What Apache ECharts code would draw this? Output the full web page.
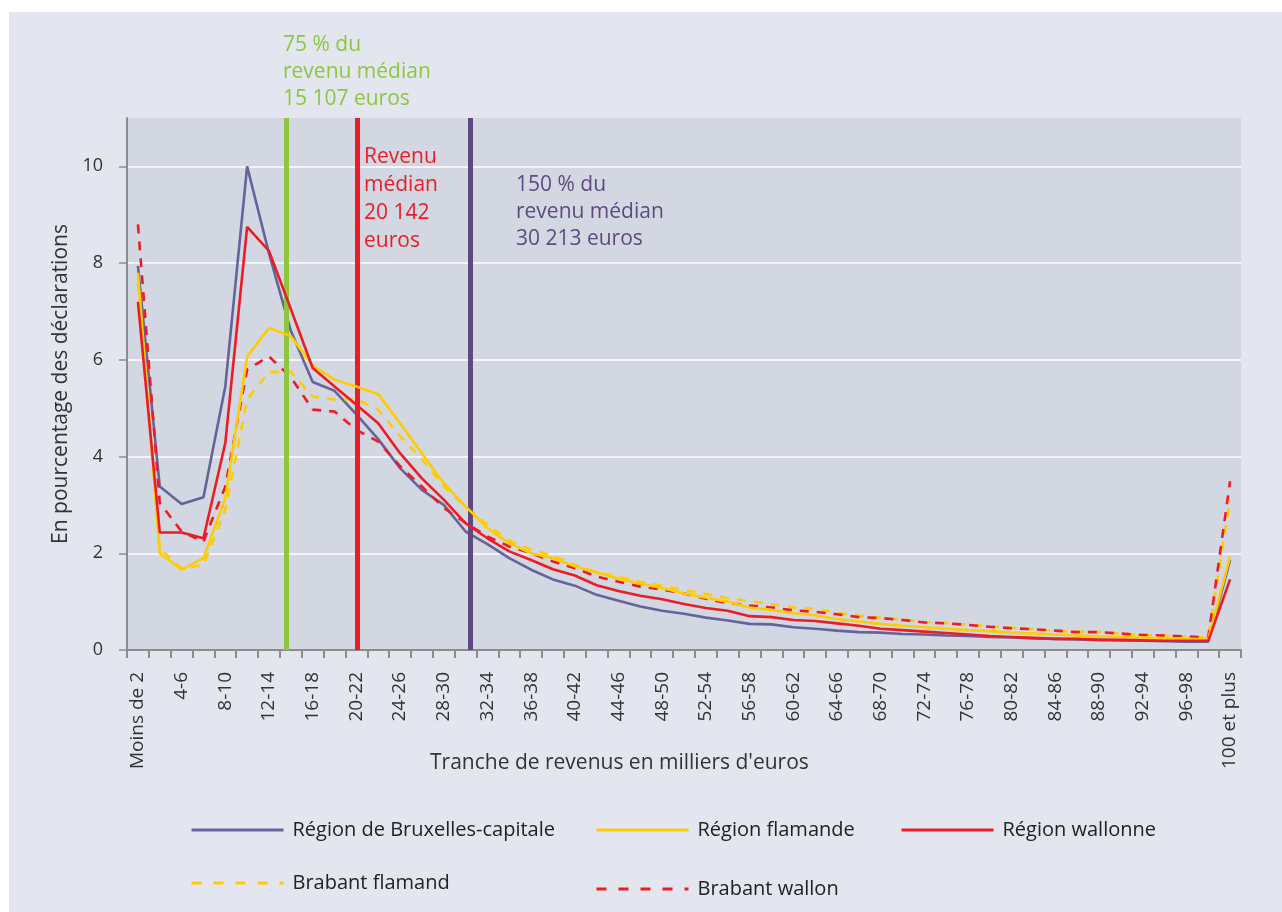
<!DOCTYPE html>
<html><head><meta charset="utf-8">
<script src="https://cdn.jsdelivr.net/npm/echarts@6/dist/echarts.min.js"></script>
<style>
html,body{margin:0;padding:0;background:#fff;}
#panel{position:absolute;left:9px;top:12px;width:1273px;height:900px;background:#e3e6ee;}
#main{position:absolute;left:0;top:0;width:1282px;height:912px;}
</style></head><body>
<div id="panel"></div><div id="main"></div>
<script>
const categories = ["Moins de 2","2-4","4-6","6-8","8-10","10-12","12-14","14-16","16-18","18-20",
  "20-22","22-24","24-26","26-28","28-30","30-32","32-34","34-36","36-38","38-40",
  "40-42","42-44","44-46","46-48","48-50","50-52","52-54","54-56","56-58","58-60",
  "60-62","62-64","64-66","66-68","68-70","70-72","72-74","74-76","76-78","78-80",
  "80-82","82-84","84-86","86-88","88-90","90-92","92-94","94-96","96-98","98-100",
  "100 et plus"];

const bruxelles = [7.94,3.38,3.02,3.16,5.45,10.0,8.2,6.6,5.54,5.36,
  4.87,4.36,3.76,3.31,3.0,2.45,2.19,1.90,1.66,1.46,
  1.33,1.14,1.02,0.90,0.81,0.75,0.67,0.61,0.54,0.53,
  0.47,0.44,0.40,0.37,0.36,0.33,0.32,0.30,0.29,0.27,
  0.26,0.24,0.23,0.22,0.21,0.20,0.19,0.18,0.17,0.17,
  1.86];

const flamande = [7.80,2.0,1.66,1.90,3.14,6.07,6.66,6.49,5.88,5.59,
  5.45,5.29,4.69,4.07,3.45,2.97,2.52,2.21,2.0,1.90,
  1.73,1.60,1.48,1.37,1.28,1.17,1.08,1.0,0.88,0.83,
  0.76,0.72,0.64,0.59,0.54,0.50,0.47,0.44,0.41,0.39,
  0.36,0.34,0.32,0.30,0.28,0.27,0.26,0.24,0.23,0.22,
  1.93];

const wallonne = [7.2,2.43,2.43,2.31,4.28,8.75,8.25,7.05,5.83,5.45,
  5.07,4.69,4.07,3.55,3.11,2.62,2.31,2.04,1.86,1.67,
  1.54,1.34,1.22,1.12,1.05,0.95,0.87,0.81,0.70,0.68,
  0.62,0.60,0.55,0.50,0.44,0.41,0.38,0.35,0.32,0.29,
  0.27,0.25,0.23,0.23,0.21,0.21,0.20,0.19,0.19,0.19,
  1.46];

const brabantFlamand = [7.6,2.1,1.68,1.76,2.9,5.18,5.75,5.75,5.24,5.18,
  5.19,4.97,4.42,3.95,3.38,2.97,2.59,2.26,2.08,1.95,
  1.76,1.61,1.52,1.41,1.33,1.24,1.16,1.07,1.01,0.95,
  0.88,0.85,0.77,0.71,0.67,0.63,0.58,0.56,0.52,0.49,
  0.46,0.43,0.40,0.38,0.37,0.34,0.31,0.30,0.28,0.26,
  3.1];

const brabantWallon = [8.8,3.04,2.45,2.24,3.38,5.80,6.07,5.64,4.97,4.93,
  4.55,4.31,3.80,3.38,2.94,2.63,2.35,2.14,2.0,1.83,
  1.69,1.52,1.41,1.31,1.25,1.17,1.06,0.97,0.92,0.88,
  0.82,0.79,0.74,0.68,0.66,0.62,0.57,0.55,0.52,0.48,
  0.45,0.43,0.40,0.37,0.37,0.34,0.31,0.30,0.28,0.26,
  3.49];

// positions of the reference lines, in category-index units
const thresholdPos = [6.79, 10.03, 15.23];
const thresholdText = ["75 % du\nrevenu médian\n15 107 euros", "Revenu\nmédian\n20 142\neuros", "150 % du\nrevenu médian\n30 213 euros"];

const FONT = "'Open Sans', 'DejaVu Sans', sans-serif";
const C_BLUE = '#64649a', C_YEL = '#ffcc00', C_RED = '#ed1c24', C_GREEN = '#8dc63f', C_PURP = '#5e4a80';

const chart = echarts.init(document.getElementById('main'));

function lineSeries(name, data, color, dashed, z) {
  return {
    name, type: 'line', data, xAxisIndex: 0, yAxisIndex: 0,
    symbol: 'none', smooth: false, z,
    lineStyle: { color, width: 2.6, type: dashed ? [9, 8] : 'solid', cap: 'butt' },
    itemStyle: { color },
    emphasis: { disabled: true }, animation: false
  };
}

function legendAt(name, left, top, dashed) {
  return {
    data: [name], left, top, itemWidth: 92, itemHeight: 16, itemGap: 0, padding: 0,
    itemStyle: { opacity: 0 },
    lineStyle: { width: 3, type: dashed ? [10, 12] : 'solid' },
    textStyle: { fontFamily: FONT, fontSize: 20, color: '#222', padding: [0, 0, 0, 4] },
    selectedMode: false
  };
}

chart.setOption({
  animation: false,
  textStyle: { fontFamily: FONT },
  grid: { left: 127, right: 41, top: 118, bottom: 262, show: true, backgroundColor: '#d2d7e2', borderWidth: 0 },
  legend: [
    legendAt('Région de Bruxelles-capitale', 190, 820, false),
    legendAt('Région flamande', 595, 820, false),
    legendAt('Région wallonne', 900, 820, false),
    legendAt('Brabant flamand', 190, 873, true),
    legendAt('Brabant wallon', 595, 879, true)
  ],
  xAxis: [{
    type: 'category', data: categories, boundaryGap: true,
    axisLine: { show: true, onZero: false, lineStyle: { color: '#8c8c8c', width: 2 } },
    axisTick: { show: true, interval: 0, length: 8, lineStyle: { color: '#8c8c8c', width: 2 } },
    axisLabel: { interval: 1, rotate: 90, margin: 22, fontSize: 19, color: '#333', fontFamily: FONT },
    splitLine: { show: false }
  }, {
    type: 'value', min: -0.5, max: 50.5, show: false
  }],
  yAxis: {
    type: 'value', min: 0, max: 11, interval: 2,
    name: 'En pourcentage des déclarations', nameLocation: 'middle', nameGap: 53,
    nameTextStyle: { fontSize: 21, color: '#333', fontFamily: FONT },
    axisLine: { show: true, onZero: false, lineStyle: { color: '#8c8c8c', width: 2 } },
    axisTick: { show: true, length: 8, lineStyle: { color: '#8c8c8c', width: 1.5 } },
    axisLabel: { margin: 24, fontSize: 18, color: '#333', fontFamily: FONT, showMaxLabel: false },
    splitLine: { show: true, showMaxLine: false, lineStyle: { color: '#ffffff', width: 1.5 } }
  },
  graphic: [
    { type: 'text', left: 430, top: 753, style: { text: "Tranche de revenus en milliers d'euros", fontSize: 21, fontFamily: FONT, fill: '#333' } },
    { type: 'text', left: 283, top: 32, style: { text: thresholdText[0], fontSize: 21, lineHeight: 27, fontFamily: FONT, fill: C_GREEN } },
    { type: 'text', left: 364, top: 143, style: { text: thresholdText[1], fontSize: 21, lineHeight: 28, fontFamily: FONT, fill: C_RED } },
    { type: 'text', left: 516, top: 172, style: { text: thresholdText[2], fontSize: 21, lineHeight: 27, fontFamily: FONT, fill: C_PURP } }
  ],
  series: [
    lineSeries('Région de Bruxelles-capitale', bruxelles, C_BLUE, false, 2),
    lineSeries('Brabant flamand', brabantFlamand, C_YEL, true, 3),
    lineSeries('Brabant wallon', brabantWallon, C_RED, true, 4),
    lineSeries('Région flamande', flamande, C_YEL, false, 5),
    lineSeries('Région wallonne', wallonne, C_RED, false, 6),
    {
      name: 'seuils', type: 'line', xAxisIndex: 1, yAxisIndex: 0, data: [], z: 7,
      symbol: 'none', silent: true,
      markLine: {
        silent: true, symbol: ['none', 'none'], animation: false,
        label: { show: false },
        data: [
          { xAxis: thresholdPos[0], lineStyle: { color: C_GREEN, width: 5, type: 'solid' } },
          { xAxis: thresholdPos[1], lineStyle: { color: C_RED, width: 5, type: 'solid' } },
          { xAxis: thresholdPos[2], lineStyle: { color: C_PURP, width: 5, type: 'solid' } }
        ]
      }
    }
  ]
});
</script>
</body></html>
